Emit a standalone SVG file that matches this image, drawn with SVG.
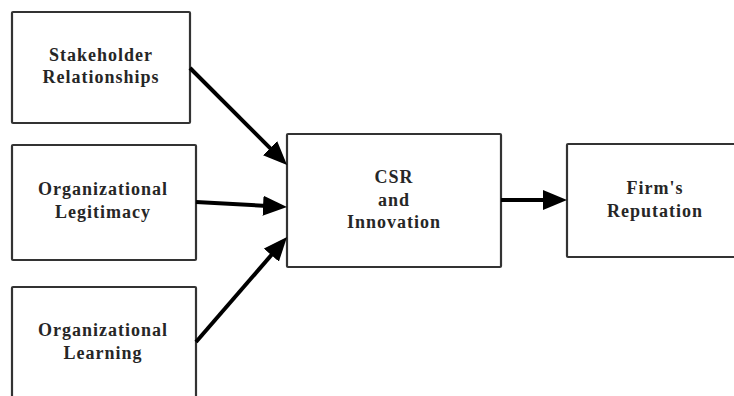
<svg xmlns="http://www.w3.org/2000/svg" width="734" height="396" viewBox="0 0 734 396">
<style>
.box{fill:#fff;stroke:#333;stroke-width:2.2}
.t{font-family:"Liberation Serif","Times New Roman",serif;font-weight:bold;font-size:18px;letter-spacing:1px;fill:#262626;text-anchor:middle}
.c{stroke:#000;stroke-width:4;fill:none}
</style>
<defs>
<marker id="ah" markerUnits="userSpaceOnUse" markerWidth="24" markerHeight="20" refX="18" refY="10" orient="auto">
<path d="M0,0 L24,10 L0,20 z" fill="#000"/>
</marker>
</defs>
<rect width="734" height="396" fill="#fff"/>
<g id="n-stakeholder">
<rect class="box" x="12" y="12" width="178" height="111" rx="1"/>
<text class="t" x="101" y="61">Stakeholder</text>
<text class="t" x="101" y="83">Relationships</text>
</g>
<g id="n-legitimacy">
<rect class="box" x="12" y="145" width="184" height="115" rx="1"/>
<text class="t" x="103" y="195">Organizational</text>
<text class="t" x="103" y="218">Legitimacy</text>
</g>
<g id="n-learning">
<rect class="box" x="12" y="287" width="184" height="120" rx="1"/>
<text class="t" x="103" y="336">Organizational</text>
<text class="t" x="103" y="359">Learning</text>
</g>
<g id="n-csr">
<rect class="box" x="287" y="134" width="214" height="133" rx="1"/>
<text class="t" x="394" y="183">CSR</text>
<text class="t" x="394" y="206">and</text>
<text class="t" x="394" y="228">Innovation</text>
</g>
<g id="n-reputation">
<rect class="box" x="567" y="144" width="180" height="113" rx="1"/>
<text class="t" x="655" y="194">Firm's</text>
<text class="t" x="655" y="217">Reputation</text>
</g>
<g id="connectors">
<line class="c" x1="190" y1="68" x2="282.8" y2="160.8" marker-end="url(#ah)"/>
<line class="c" x1="196" y1="202" x2="281" y2="206.7" marker-end="url(#ah)"/>
<line class="c" x1="196" y1="342" x2="283.1" y2="241.5" marker-end="url(#ah)"/>
<line class="c" x1="501" y1="200" x2="561" y2="200" marker-end="url(#ah)"/>
</g>
</svg>
